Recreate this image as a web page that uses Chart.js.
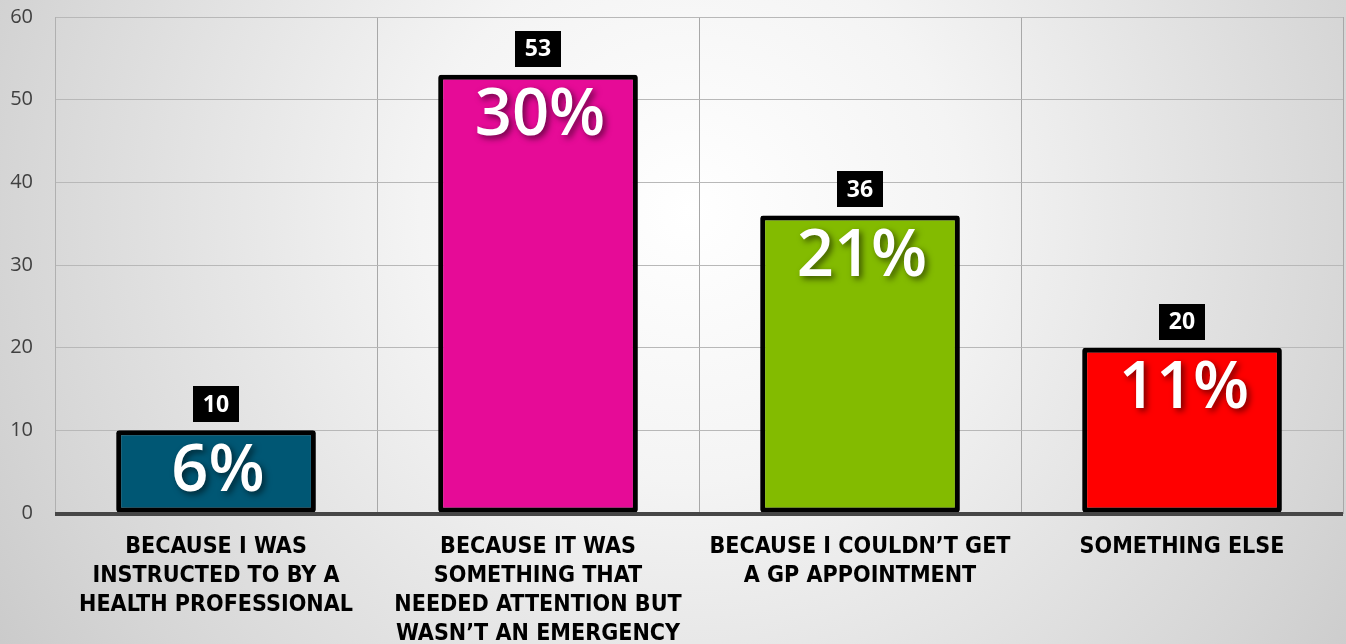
<!DOCTYPE html>
<html>
<head>
<meta charset="utf-8">
<script src="https://cdn.jsdelivr.net/npm/chart.js@4/dist/chart.umd.min.js"></script>
<style>
  html, body { margin: 0; padding: 0; background: #d4d4d4; }
  #wrap { width: 1346px; height: 644px; position: relative; }
</style>
</head>
<body>
<div id="wrap"><canvas id="c" width="1346" height="644"></canvas></div>
<script>
// Survey answers: why people used the service
const categories = [
  ['BECAUSE I WAS', 'INSTRUCTED TO BY A', 'HEALTH PROFESSIONAL'],
  ['BECAUSE IT WAS', 'SOMETHING THAT', 'NEEDED ATTENTION BUT', 'WASN\u2019T AN EMERGENCY'],
  ['BECAUSE I COULDN\u2019T GET', 'A GP APPOINTMENT'],
  ['SOMETHING ELSE']
];
const counts = [10, 53, 36, 20];
const percents = [6, 30, 21, 11];
const barColors = ['#005774', '#e60b97', '#83bb00', '#ff0000'];
const yTicks = [0, 10, 20, 30, 40, 50, 60];

const PLOT_LEFT = 55;
const PLOT_BOTTOM = 513;
const LABEL_FAMILY = '"DejaVu Sans Condensed", sans-serif';
const LABEL_LINE = 29;          // px between category label lines
const LABEL_REF_WIDTH = 274;    // px width of the longest first-category line

const decorations = {
  id: 'decorations',
  beforeDraw(chart) {
    const { ctx, width, height } = chart;
    const g = ctx.createRadialGradient(690, 210, 0, 690, 210, 900);
    g.addColorStop(0, '#ffffff');
    g.addColorStop(0.3, '#f4f4f4');
    g.addColorStop(0.75, '#d6d6d6');
    g.addColorStop(1, '#c4c4c4');
    ctx.save();
    ctx.fillStyle = g;
    ctx.fillRect(0, 0, width, height);
    ctx.restore();
  },
  beforeDatasetsDraw(chart) {
    const ctx = chart.ctx;
    ctx.save();
    ctx.shadowColor = 'rgba(0,0,0,0.35)';
    ctx.shadowBlur = 8;
    ctx.shadowOffsetX = 6;
    ctx.shadowOffsetY = 2;
  },
  afterDatasetsDraw(chart) {
    const ctx = chart.ctx;
    ctx.restore();
    const area = chart.chartArea;
    // baseline
    ctx.save();
    ctx.fillStyle = '#464646';
    ctx.fillRect(area.left, area.bottom - 1, area.right - area.left, 4);
    ctx.restore();

    const meta = chart.getDatasetMeta(0);
    meta.data.forEach((bar, i) => {
      const x = bar.x;
      const top = bar.y;
      // count box above the bar
      ctx.save();
      ctx.font = 'bold 23px "Open Sans"';
      const txt = String(counts[i]);
      const tw = ctx.measureText(txt).width;
      const bw = tw + 20, bh = 36;
      const by = top - 8 - bh;
      ctx.fillStyle = '#000000';
      ctx.fillRect(Math.round(x - bw / 2), Math.round(by), Math.round(bw), bh);
      ctx.fillStyle = '#ffffff';
      ctx.textAlign = 'center';
      ctx.textBaseline = 'middle';
      ctx.fillText(txt, x, by + bh / 2 + 1);
      ctx.restore();

      // percentage inside the bar
      ctx.save();
      ctx.font = '600 65px "Open Sans"';
      ctx.textAlign = 'center';
      ctx.textBaseline = 'middle';
      ctx.shadowColor = 'rgba(0,0,0,0.55)';
      ctx.shadowBlur = 6;
      ctx.shadowOffsetX = 3;
      ctx.shadowOffsetY = 3;
      ctx.fillStyle = '#ffffff';
      ctx.fillText(percents[i] + '%', x + 2, top + 42);
      ctx.restore();
    });
  }
};

function labelFontSize() {
  // size the condensed bold face so the widest line spans the intended width
  const m = document.createElement('canvas').getContext('2d');
  m.font = 'bold 25px ' + LABEL_FAMILY;
  const w = m.measureText(categories[0][2]).width;
  return w > 0 ? Math.min(26, 25 * LABEL_REF_WIDTH / w) : 23.5;
}

function drawChart() {
  const size = labelFontSize();
  new Chart(document.getElementById('c'), {
    type: 'bar',
    data: {
      labels: categories,
      datasets: [{
        data: counts,
        backgroundColor: barColors,
        borderColor: '#000000',
        borderWidth: 5,
        borderRadius: 3,
        borderSkipped: false,
        categoryPercentage: 1,
        barPercentage: 0.62
      }]
    },
    options: {
      responsive: false,
      animation: false,
      events: [],
      layout: { padding: { top: 17, right: 3, left: 0, bottom: 0 } },
      plugins: {
        legend: { display: false },
        tooltip: { enabled: false },
        title: { display: false }
      },
      scales: {
        x: {
          grid: { color: '#a8a8a8', lineWidth: 1, drawTicks: false, offset: true },
          border: { display: true, color: '#a8a8a8' },
          ticks: {
            color: '#000000',
            font: { family: LABEL_FAMILY, weight: 'bold', size: size, lineHeight: LABEL_LINE / size },
            padding: 20,
            maxRotation: 0,
            autoSkip: false
          },
          afterFit(scale) { scale.height = 644 - PLOT_BOTTOM; }
        },
        y: {
          min: 0,
          max: 60,
          afterBuildTicks(scale) { scale.ticks = yTicks.map(v => ({ value: v })); },
          grid: { color: '#b8b8b8', lineWidth: 1, drawTicks: true, tickLength: 20, tickColor: 'rgba(0,0,0,0)' },
          border: { display: true, color: '#b0b0b0' },
          ticks: {
            color: '#404040',
            font: { family: '"Open Sans", sans-serif', size: 20 },
            padding: 2
          },
          afterFit(scale) { scale.width = PLOT_LEFT; }
        }
      }
    },
    plugins: [decorations]
  });
}

// make sure the local fonts are ready before measuring text
const fontLoads = [
  'bold 25px "DejaVu Sans Condensed"',
  'bold 23px "Open Sans"',
  '600 65px "Open Sans"',
  '20px "Open Sans"'
].map(f => document.fonts ? document.fonts.load(f).catch(() => null) : Promise.resolve());
Promise.all(fontLoads).then(drawChart, drawChart);
</script>
</body>
</html>
